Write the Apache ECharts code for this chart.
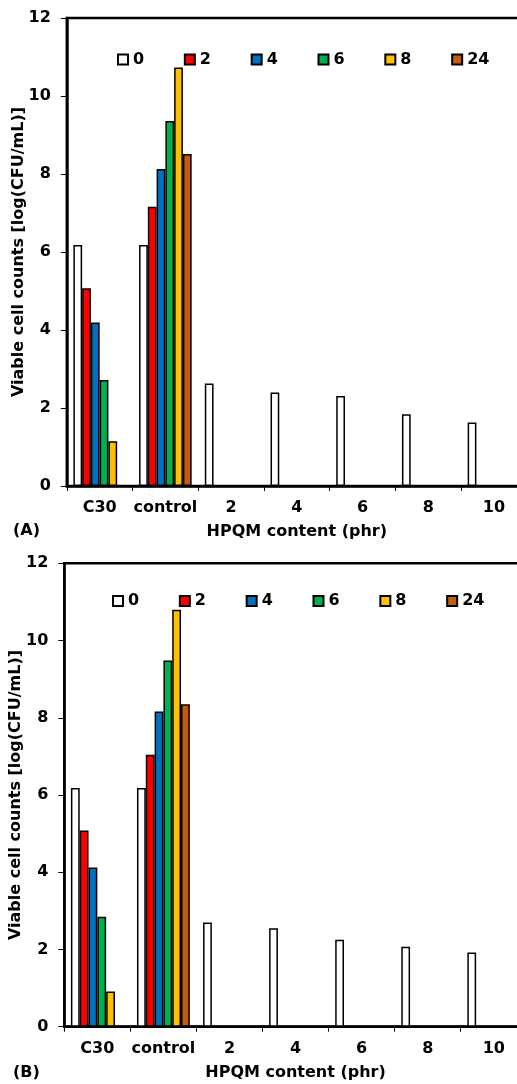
<!DOCTYPE html>
<html><head><meta charset="utf-8">
<script src="https://cdn.jsdelivr.net/npm/echarts@6/dist/echarts.min.js"></script>
<style>html,body{margin:0;padding:0;background:#fff}#c{width:517px;height:1084px}</style>
</head><body><div id="c"></div>
<script>
// ---- data ----
const categories = ['C30', 'control', '2', '4', '6', '8', '10'];
const seriesNames = ['0', '2', '4', '6', '8', '24'];
const seriesColors = ['#FFFFFF', '#FF0000', '#0070C0', '#00B050', '#FFC000', '#C55A11'];

// Panel (A)
const a_0  = [6.18, 6.18, 2.63, 2.40, 2.31, 1.84, 1.63];
const a_2  = [5.07, 7.16, null, null, null, null, null];
const a_4  = [4.19, 8.13, null, null, null, null, null];
const a_6  = [2.72, 9.36, null, null, null, null, null];
const a_8  = [1.15, 10.73, null, null, null, null, null];
const a_24 = [null, 8.51, null, null, null, null, null];

// Panel (B)
const b_0  = [6.18, 6.18, 2.70, 2.55, 2.25, 2.07, 1.92];
const b_2  = [5.08, 7.04, null, null, null, null, null];
const b_4  = [4.12, 8.16, null, null, null, null, null];
const b_6  = [2.85, 9.48, null, null, null, null, null];
const b_8  = [0.91, 10.80, null, null, null, null, null];
const b_24 = [null, 8.35, null, null, null, null, null];

const yMin = 0, yMax = 12, yInterval = 2;
const xTitle = 'HPQM content (phr)';
const yTitle = 'Viable cell counts [log(CFU/mL)]';
const panelLabels = ['(A)', '(B)'];

// ---- chart ----
const FONT = 'DejaVu Sans';
const txt = {fontFamily: FONT, fontWeight: 'bold', fontSize: 16, color: '#000'};
const W = 517;

const grids = [
  {left: 66.8, top: 18, width: 460, height: 468},
  {left: 64.3, top: 563.3, width: 462.5, height: 463.4}
];

function xAxisFor(i) {
  return {
    type: 'category', gridIndex: i, data: categories,
    boundaryGap: true,
    axisLine: {show: true, lineStyle: {color: '#000', width: 2.5}},
    axisTick: {show: true, alignWithLabel: false, length: 5, lineStyle: {color: '#000', width: 1}},
    axisLabel: Object.assign({margin: 14, interval: 0}, txt),
    name: xTitle, nameLocation: 'middle', nameGap: 38, nameMoveOverlap: false,
    nameTextStyle: Object.assign({}, txt)
  };
}
function yAxisFor(i) {
  return {
    type: 'value', gridIndex: i, min: yMin, max: yMax, interval: yInterval,
    axisLine: {show: true, lineStyle: {color: '#000', width: 2.5}},
    axisTick: {show: true, inside: false, length: 6, lineStyle: {color: '#000', width: 1}},
    splitLine: {show: false},
    axisLabel: Object.assign({margin: 16}, txt),
    name: yTitle, nameLocation: 'middle', nameGap: 40, nameMoveOverlap: false,
    nameTextStyle: Object.assign({}, txt)
  };
}

const panelData = [[a_0, a_2, a_4, a_6, a_8, a_24], [b_0, b_2, b_4, b_6, b_8, b_24]];
const series = [];
panelData.forEach((arrs, gi) => {
  arrs.forEach((d, si) => {
    series.push({
      type: 'bar', name: seriesNames[si], xAxisIndex: gi, yAxisIndex: gi,
      data: d, barGap: '0%', barCategoryGap: '20%',
      itemStyle: {color: seriesColors[si], borderColor: '#000', borderWidth: 1.5},
      emphasis: {disabled: true}, animation: false
    });
  });
});

const legendBase = {
  orient: 'horizontal', itemWidth: 10, itemHeight: 10, itemGap: 39.7, padding: 0,
  icon: 'rect', data: seriesNames, selectedMode: false,
  textStyle: Object.assign({}, txt)
};

const chart = echarts.init(document.getElementById('c'), null, {renderer: 'canvas', width: W, height: 1084});
chart.setOption({
  animation: false,
  backgroundColor: '#fff',
  grid: grids.map(g => Object.assign({show: true, borderColor: '#000', borderWidth: 2.5, backgroundColor: 'transparent', containLabel: false, outerBoundsMode: 'none'}, g)),
  xAxis: [xAxisFor(0), xAxisFor(1)],
  yAxis: [yAxisFor(0), yAxisFor(1)],
  legend: [
    Object.assign({left: 117, top: 51.5}, legendBase),
    Object.assign({left: 112, top: 593}, legendBase)
  ],
  series: series,
  graphic: [
    {type: 'text', left: 13, top: 523, style: {text: panelLabels[0], fill: '#000', font: 'bold 16px "DejaVu Sans"'}},
    {type: 'text', left: 13, top: 1065, style: {text: panelLabels[1], fill: '#000', font: 'bold 16px "DejaVu Sans"'}}
  ]
});
</script>
</body></html>
